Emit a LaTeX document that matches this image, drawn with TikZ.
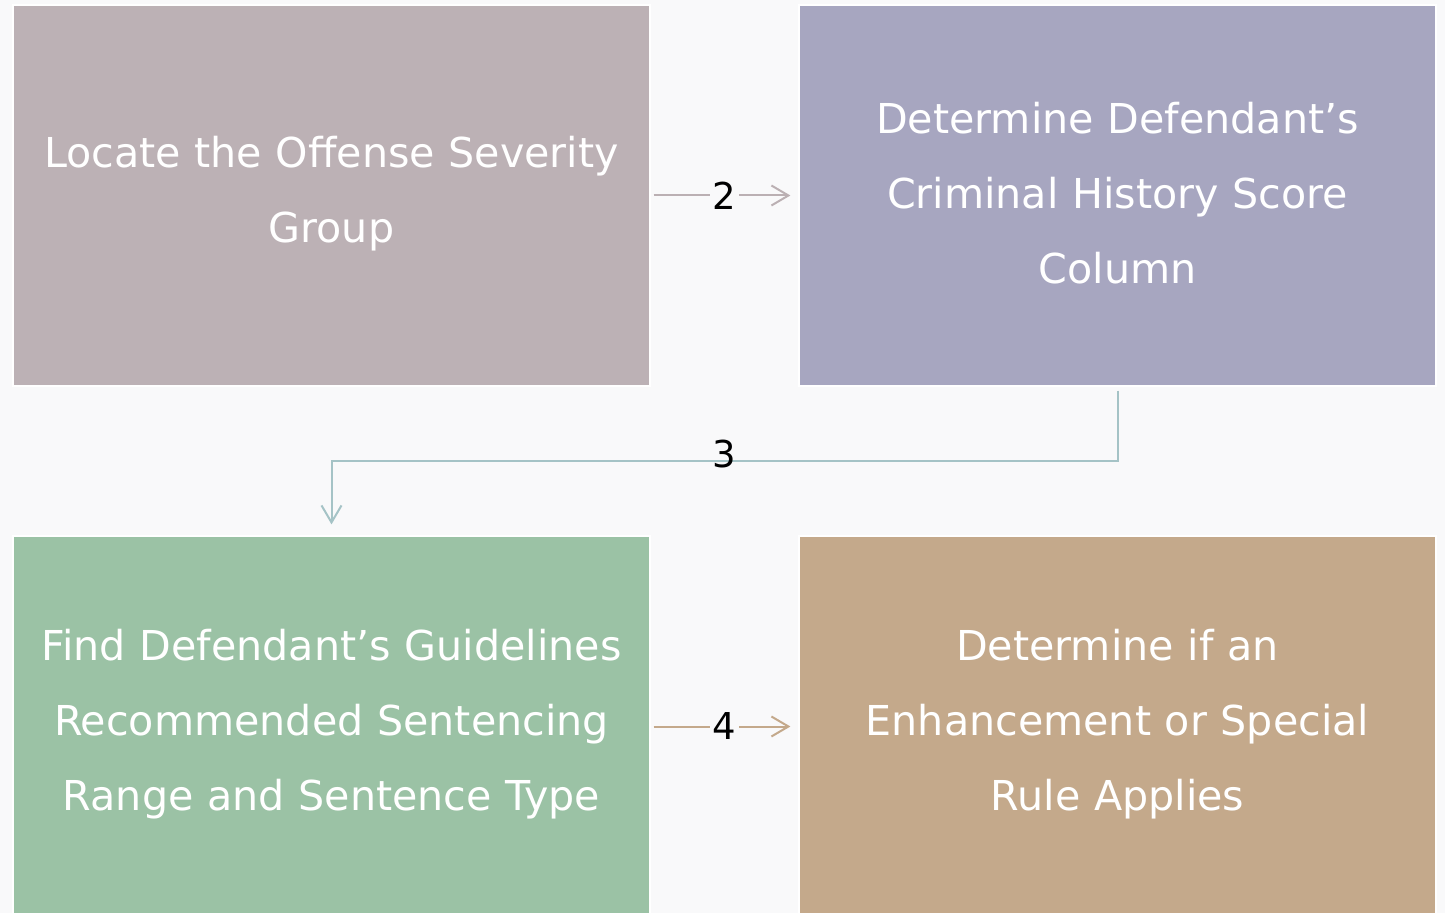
\documentclass[tikz,border=0pt]{standalone}
\usepackage{fontspec}
\setmainfont{DejaVu Sans}
\usetikzlibrary{arrows.meta,positioning}

\definecolor{pagebg}{HTML}{F9F9FA}
\definecolor{locbox}{HTML}{BCB1B5}
\definecolor{histbox}{HTML}{A7A6C0}
\definecolor{findbox}{HTML}{9BC2A5}
\definecolor{rulebox}{HTML}{C4A98B}
\definecolor{arrowtwo}{HTML}{BBB0B3}
\definecolor{arrowthree}{HTML}{A5C3C6}
\definecolor{arrowfour}{HTML}{C4A98B}

\tikzset{
  stepbox/.style={draw=white, line width=0.6pt, minimum width=318.5pt,
    minimum height=190.5pt, text width=310pt, align=center,
    text=white, font=\fontsize{20.6}{37.5}\selectfont,
    execute at end node={\par\vspace{2pt}}},
  link/.style={line width=1pt, -{Straight Barb[length=8.5pt,width=10pt]}},
  numlabel/.style={font=\fontsize{18.5}{20}\selectfont, text=black, inner sep=1.5pt}
}

\begin{document}
\begin{tikzpicture}[x=0.5pt,y=-0.5pt]
    \fill[pagebg] (0,0) rectangle (1445,913);
    \useasboundingbox (0,0) rectangle (1445,913);

    % the four steps
    \node[stepbox, fill=locbox]  (locate) at (331.5,195.5)
      {Locate the Offense Severity\\Group};
    \node[stepbox, fill=histbox] (history) at (1117.5,195.5)
      {Determine Defendant’s\\Criminal History Score\\Column};
    \node[stepbox, fill=findbox] (find) at (331.5,726.5)
      {Find Defendant’s Guidelines\\Recommended Sentencing\\Range and Sentence Type};
    \node[stepbox, fill=rulebox] (rule) at (1117.5,726.5)
      {Determine if an\\Enhancement or Special\\Rule Applies};

    % connectors
    \draw[link, arrowtwo, shorten <=1.5pt, shorten >=4pt] (locate) --
      node[numlabel, fill=pagebg] {2} (history);
    \draw[link, arrowthree, shorten <=2pt, shorten >=5.5pt] (history.south) --
      ++(0,74) -| node[numlabel, pos=0.25, yshift=3.5pt] {3} (find.north);
    \draw[link, arrowfour, shorten <=1.5pt, shorten >=4pt] (find) --
      node[numlabel, fill=pagebg] {4} (rule);
\end{tikzpicture}
\end{document}
